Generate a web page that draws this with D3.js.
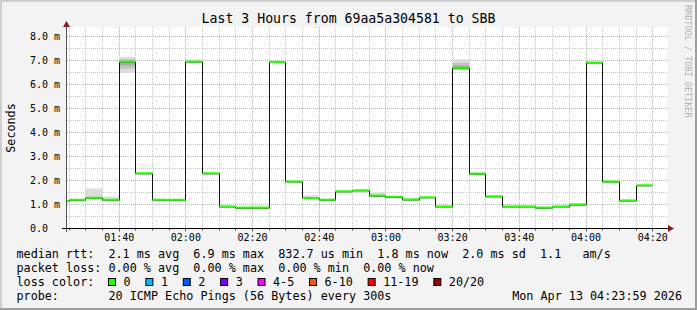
<!DOCTYPE html>
<html>
<head>
<meta charset="utf-8">
<script src="https://cdn.jsdelivr.net/npm/d3@7"></script>
<style>
body { margin: 0; background: #f3f3f3; }
svg text { font-family: "DejaVu Sans Mono", monospace; fill: #000; }
</style>
</head>
<body>
<div id="chart"></div>
<script>
// step start times (300s steps) and median rtt in ms
var steps = ["01:20","01:25","01:30","01:35","01:40","01:45","01:50","01:55",
	"02:00","02:05","02:10","02:15","02:20","02:25","02:30","02:35","02:40","02:45",
	"02:50","02:55","03:00","03:05","03:10","03:15","03:20","03:25","03:30","03:35",
	"03:40","03:45","03:50","03:55","04:00","04:05","04:10","04:15"];
var median = [1.12,1.18,1.26,1.18,6.93,2.28,1.18,1.18,
	6.94,2.28,0.90,0.85,0.85,6.92,1.94,1.25,1.18,1.53,
	1.57,1.35,1.30,1.19,1.28,0.90,6.68,2.26,1.32,0.90,
	0.90,0.85,0.90,0.98,6.90,1.94,1.15,1.78];
var smokeLo = [1.12,1.17,1.25,1.17,6.48,2.26,1.17,1.17,
	6.92,2.26,0.89,0.84,0.84,6.90,1.93,1.23,1.17,1.52,
	1.56,1.33,1.29,1.18,1.27,0.89,6.58,2.24,1.31,0.89,
	0.89,0.84,0.89,0.97,6.88,1.93,1.14,1.77];
var smokeHi = [1.14,1.20,1.67,1.33,7.15,2.33,1.20,1.23,
	6.97,2.31,0.92,0.87,0.87,6.94,1.97,1.38,1.25,1.55,
	1.59,1.48,1.33,1.27,1.30,0.92,7.05,2.36,1.34,0.92,
	0.92,0.87,0.92,1.05,6.92,1.99,1.21,1.80];

var yTicks = [0,1,2,3,4,5,6,7,8];
var yTickLabels = ["0.0","1.0 m","2.0 m","3.0 m","4.0 m","5.0 m","6.0 m","7.0 m","8.0 m"];
var xTicks = ["01:40","02:00","02:20","02:40","03:00","03:20","03:40","04:00","04:20"];

var lossLabels = ["0","1","2","3","4-5","6-10","11-19","20/20"];
var lossColors = ["#26ff00","#00b8ff","#0059ff","#7e00ff","#ff00ff","#ff5500","#ff0000","#a10000"];

var title = "Last 3 Hours from 69aa5a304581 to SBB";
var statLines = [
	"median rtt:  2.1 ms avg  6.9 ms max  832.7 us min  1.8 ms now  2.0 ms sd  1.1   am/s",
	"packet loss: 0.00 % avg  0.00 % max  0.00 % min  0.00 % now"
];
var probeText = "probe:       20 ICMP Echo Pings (56 Bytes) every 300s";
var dateText = "Mon Apr 13 04:23:59 2026";

var W = 697, H = 310;
var left = 66.5, right = 666.7, plotTop = 27, bottom = 228.5;

var parse = d3.timeParse("%H:%M:%S");
var pm = d3.timeParse("%H:%M");
var x = d3.scaleTime().domain([parse("01:24:12"), parse("04:24:12")]).range([left, right]);
var y = d3.scaleLinear().domain([0, 8]).range([bottom, 36.5]);
var px = function(v){ return Math.round(v - 0.5) + 0.5; };
var stepEnd = function(d){ return d3.timeMinute.offset(pm(d), 5); };

var svg = d3.select("#chart").append("svg")
	.attr("width", W)
	.attr("height", H);

// background + 3d frame
svg.append("rect").attr("width", W).attr("height", H).attr("fill", "#f3f3f3");
svg.append("rect").attr("x", 0).attr("y", 0).attr("width", W).attr("height", 2).attr("fill", "#cfcfcf");
svg.append("rect").attr("x", 0).attr("y", 0).attr("width", 2).attr("height", H).attr("fill", "#cfcfcf");
svg.append("rect").attr("x", W - 2).attr("y", 0).attr("width", 2).attr("height", H).attr("fill", "#9e9e9e");
svg.append("rect").attr("x", 0).attr("y", H - 2).attr("width", W).attr("height", 2).attr("fill", "#9e9e9e");

// plot area
svg.append("rect").attr("x", 67).attr("y", plotTop).attr("width", 668 - 67).attr("height", bottom - plotTop).attr("fill", "#fff");

svg.append("clipPath").attr("id", "plot")
	.append("rect").attr("x", 67).attr("y", plotTop).attr("width", 668 - 67).attr("height", bottom - plotTop);

// grid
var minorX = d3.timeMinute.every(5).range(x.domain()[0], x.domain()[1]);
var g = svg.append("g");
g.selectAll(".mx").data(minorX).enter().append("line")
	.attr("x1", function(d){ return px(x(d)); }).attr("x2", function(d){ return px(x(d)); })
	.attr("y1", plotTop).attr("y2", bottom)
	.attr("stroke", function(d){ return d.getMinutes() % 20 == 0 ? "#f29a9a" : "#c8c8c8"; })
	.attr("stroke-dasharray", "1,1");
var minorY = d3.range(0.5, 8.5, 0.5);
g.selectAll(".my").data(minorY).enter().append("line")
	.attr("x1", 67).attr("x2", 668)
	.attr("y1", function(d){ return y(d); }).attr("y2", function(d){ return y(d); })
	.attr("stroke", function(d){ return d % 1 == 0 ? "#f29a9a" : "#c8c8c8"; })
	.attr("stroke-dasharray", "1,1");

// smoke (darker layers only where pings spread on both sides of the median)
var plot = svg.append("g").attr("clip-path", "url(#plot)");
var shades = [[1, "#dcdcdc"], [0.6, "#c4c4c4"], [0.3, "#a8a8a8"]];
shades.forEach(function(s, k){
	plot.selectAll(null).data(steps).enter()
		.filter(function(d, i){ return k == 0 || median[i] - smokeLo[i] > 0.05; })
		.append("rect")
		.attr("x", function(d){ return x(pm(d)); })
		.attr("width", function(d){ return x(stepEnd(d)) - x(pm(d)); })
		.attr("y", function(d){ var i = steps.indexOf(d); return y(median[i] + (smokeHi[i] - median[i]) * s[0]); })
		.attr("height", function(d){
			var i = steps.indexOf(d);
			var hi = median[i] + (smokeHi[i] - median[i]) * s[0];
			var lo = median[i] - (median[i] - smokeLo[i]) * s[0];
			return y(lo) - y(hi);
		})
		.attr("fill", s[1]);
});

// median step line
var pts = steps.map(function(d, i){ return [pm(d), median[i]]; });
pts.push([stepEnd(steps[steps.length - 1]), median[median.length - 1]]);
var line = d3.line()
	.x(function(d){ return px(x(d[0])); })
	.y(function(d){ return y(d[1]); })
	.curve(d3.curveStepAfter);
plot.append("path").datum(pts).attr("d", line)
	.attr("fill", "none").attr("stroke", "#111").attr("stroke-width", 1);

plot.selectAll(".med").data(steps).enter().append("line")
	.attr("x1", function(d){ return px(x(pm(d))); })
	.attr("x2", function(d){ return px(x(stepEnd(d))); })
	.attr("y1", function(d, i){ return y(median[i]) - 0.5; })
	.attr("y2", function(d, i){ return y(median[i]) - 0.5; })
	.attr("stroke", lossColors[0]).attr("stroke-width", 2);

// axes
svg.append("line").attr("x1", 62).attr("x2", 670).attr("y1", bottom).attr("y2", bottom).attr("stroke", "#000");
svg.append("path").attr("d", "M668," + (bottom - 3.5) + "L674," + bottom + "L668," + (bottom + 3.5) + "Z").attr("fill", "#8b1a1a");
svg.append("line").attr("x1", left).attr("x2", left).attr("y1", 232).attr("y2", 24).attr("stroke", "#555");
svg.append("path").attr("d", "M" + (left - 3.5) + ",27L" + left + ",21L" + (left + 3.5) + ",27Z").attr("fill", "#8b1a1a");

g.selectAll(".xt").data(minorX).enter().append("line")
	.attr("x1", function(d){ return px(x(d)); }).attr("x2", function(d){ return px(x(d)); })
	.attr("y1", bottom).attr("y2", function(d){ return bottom + (d.getMinutes() % 20 == 0 ? 3 : 2); })
	.attr("stroke", "#555");

// tick labels
svg.selectAll(".yl").data(yTicks).enter().append("text")
	.attr("x", 30).attr("y", function(d){ return y(d) + 3.5; })
	.attr("font-size", "10px")
	.text(function(d, i){ return yTickLabels[i]; });
svg.selectAll(".xl").data(xTicks).enter().append("text")
	.attr("x", function(d){ return x(pm(d)); }).attr("y", 241)
	.attr("text-anchor", "middle").attr("font-size", "10px")
	.text(function(d){ return d; });

// title, axis label, watermark
svg.append("text").attr("x", W / 2).attr("y", 23).attr("text-anchor", "middle")
	.attr("font-size", "13.2px").text(title);
svg.append("text").attr("transform", "translate(15,128) rotate(-90)").attr("text-anchor", "middle")
	.attr("font-size", "11.75px").text("Seconds");
svg.append("text").attr("transform", "translate(685,5) rotate(90)")
	.attr("font-size", "8.5px").style("fill", "#b0b0b0").text("RRDTOOL / TOBI OETIKER");

// legend
var fs = "11.75px";
statLines.forEach(function(t, i){
	svg.append("text").attr("x", 16.5).attr("y", 258 + i * 14).attr("font-size", fs)
		.style("white-space", "pre").text(t);
});
svg.append("text").attr("x", 16.5).attr("y", 286).attr("font-size", fs).text("loss color:");
var lx = 108.5;
lossLabels.forEach(function(l, i){
	svg.append("rect").attr("x", lx).attr("y", 278.5).attr("width", 7).attr("height", 7)
		.attr("fill", lossColors[i]).attr("stroke", "#000");
	var t = svg.append("text").attr("x", lx + 15).attr("y", 286).attr("font-size", fs).text(l);
	lx = lx + 15 + t.node().getComputedTextLength() + 15.3;
});
svg.append("text").attr("x", 16.5).attr("y", 300).attr("font-size", fs)
	.style("white-space", "pre").text(probeText);
svg.append("text").attr("x", 682).attr("y", 300).attr("text-anchor", "end").attr("font-size", fs).text(dateText);
</script>
</body>
</html>
